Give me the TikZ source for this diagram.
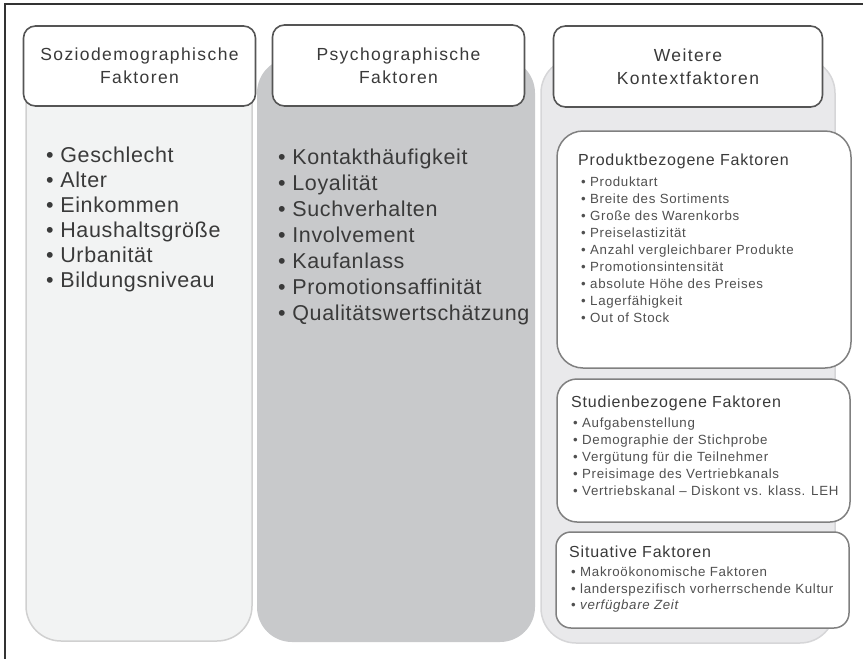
\documentclass[tikz,border=0pt]{standalone}
\usepackage{fontspec}
\setmainfont{Liberation Sans}
\newfontfamily\hdrfont[LetterSpace=8]{Liberation Sans}
\newfontfamily\listfont[LetterSpace=3]{Liberation Sans}
\newfontfamily\subfont[LetterSpace=5]{Liberation Sans}
\definecolor{frameC}{HTML}{333333}
\definecolor{hdrC}{HTML}{555555}
\definecolor{txtC}{HTML}{3A3A3A}
\definecolor{subtxtC}{HTML}{505050}
\definecolor{colA}{HTML}{F2F3F3}
\definecolor{colAb}{HTML}{D0D0D0}
\definecolor{colB}{HTML}{C8C9CB}
\definecolor{colC}{HTML}{E9E9EB}
\definecolor{colCb}{HTML}{D6D6D8}
\definecolor{subB}{HTML}{808080}
\begin{document}
\begin{tikzpicture}[x=1pt,y=-1pt,
  hdrbox/.style={draw=hdrC, line width=1.6pt, fill=white, rounded corners=12pt,
    align=center, text=txtC, font=\hdrfont\fontsize{17.5}{23}\selectfont, inner sep=0pt},
  bigitem/.style={anchor=base west, inner sep=0pt, text=txtC, font=\listfont\fontsize{21.5}{26}\selectfont},
  subtitle/.style={anchor=base west, inner sep=0pt, text=txtC, font=\subfont\fontsize{16}{19}\selectfont},
  subitem/.style={anchor=base west, inner sep=0pt, text=subtxtC, font=\subfont\fontsize{13.3}{16}\selectfont},
  subbox/.style={draw=subB, line width=1.5pt, fill=white}
]
\useasboundingbox (0,0) rectangle (863,659);
% frame
\draw[frameC, line width=1.5pt] (5,659) -- (5,4) -- (863,4);
% column backgrounds
\draw[fill=colA, draw=colAb, line width=1.5pt, rounded corners=35pt] (26,58) rectangle (252,641);
\fill[colB, rounded corners=35pt] (257,58) rectangle (535,642);
\draw[fill=colC, draw=colCb, line width=1.5pt, rounded corners=35pt] (541,58) rectangle (835,643);
% headers
\node[hdrbox, minimum width=232pt, minimum height=80pt] (h1) at (139.5,66) {Soziodemographische\\Faktoren};
\node[hdrbox, minimum width=252pt, minimum height=81pt] (h2) at (398.5,65.5) {Psychographische\\Faktoren};
\node[hdrbox, minimum width=269pt, minimum height=81pt] (h3) at (688,66.5) {Weitere\\Kontextfaktoren};
% column 1 items
\foreach \t [count=\i] in {Geschlecht,Alter,Einkommen,Haushaltsgröße,Urbanität,Bildungsniveau}{
  \node[bigitem] (a\i) at (46,{162+25*(\i-1)}) {• \t};
}
% column 2 items
\foreach \t [count=\i] in {Kontakthäufigkeit,Loyalität,Suchverhalten,Involvement,Kaufanlass,Promotionsaffinität,Qualitätswertschätzung}{
  \node[bigitem] (b\i) at (278,{164+26*(\i-1)}) {• \t};
}
% sub boxes
\draw[subbox, rounded corners=26pt] (557,131) rectangle (851,368);
\draw[subbox, rounded corners=20pt] (557,379) rectangle (850,522);
\draw[subbox, rounded corners=15pt] (556,532) rectangle (849,628);
% Produkt
\node[subtitle] (pt) at (578,165) {Produktbezogene Faktoren};
\foreach \t [count=\i] in {Produktart,Breite des Sortiments,Große des Warenkorbs,Preiselastizität,Anzahl vergleichbarer Produkte,Promotionsintensität,absolute Höhe des Preises,Lagerfähigkeit,Out of Stock}{
  \node[subitem] (p\i) at (581,{186+17.1*(\i-1)}) {• \t};
}
% Studien
\node[subtitle] (st) at (571,407) {Studienbezogene Faktoren};
\foreach \t [count=\i] in {Aufgabenstellung,Demographie der Stichprobe,Vergütung für die Teilnehmer,Preisimage des Vertriebkanals,Vertriebskanal – Diskont vs. klass. LEH}{
  \node[subitem] (s\i) at (573,{427+17*(\i-1)}) {• \t};
}
% Situative
\node[subtitle] (ct) at (569,557) {Situative Faktoren};
\node[subitem] (c1) at (571,576) {• Makroökonomische Faktoren};
\node[subitem] (c2) at (571,593) {• landerspezifisch vorherrschende Kultur};
\node[subitem] (c3) at (571,609) {• \itshape verfügbare Zeit};
\end{tikzpicture}
\end{document}
